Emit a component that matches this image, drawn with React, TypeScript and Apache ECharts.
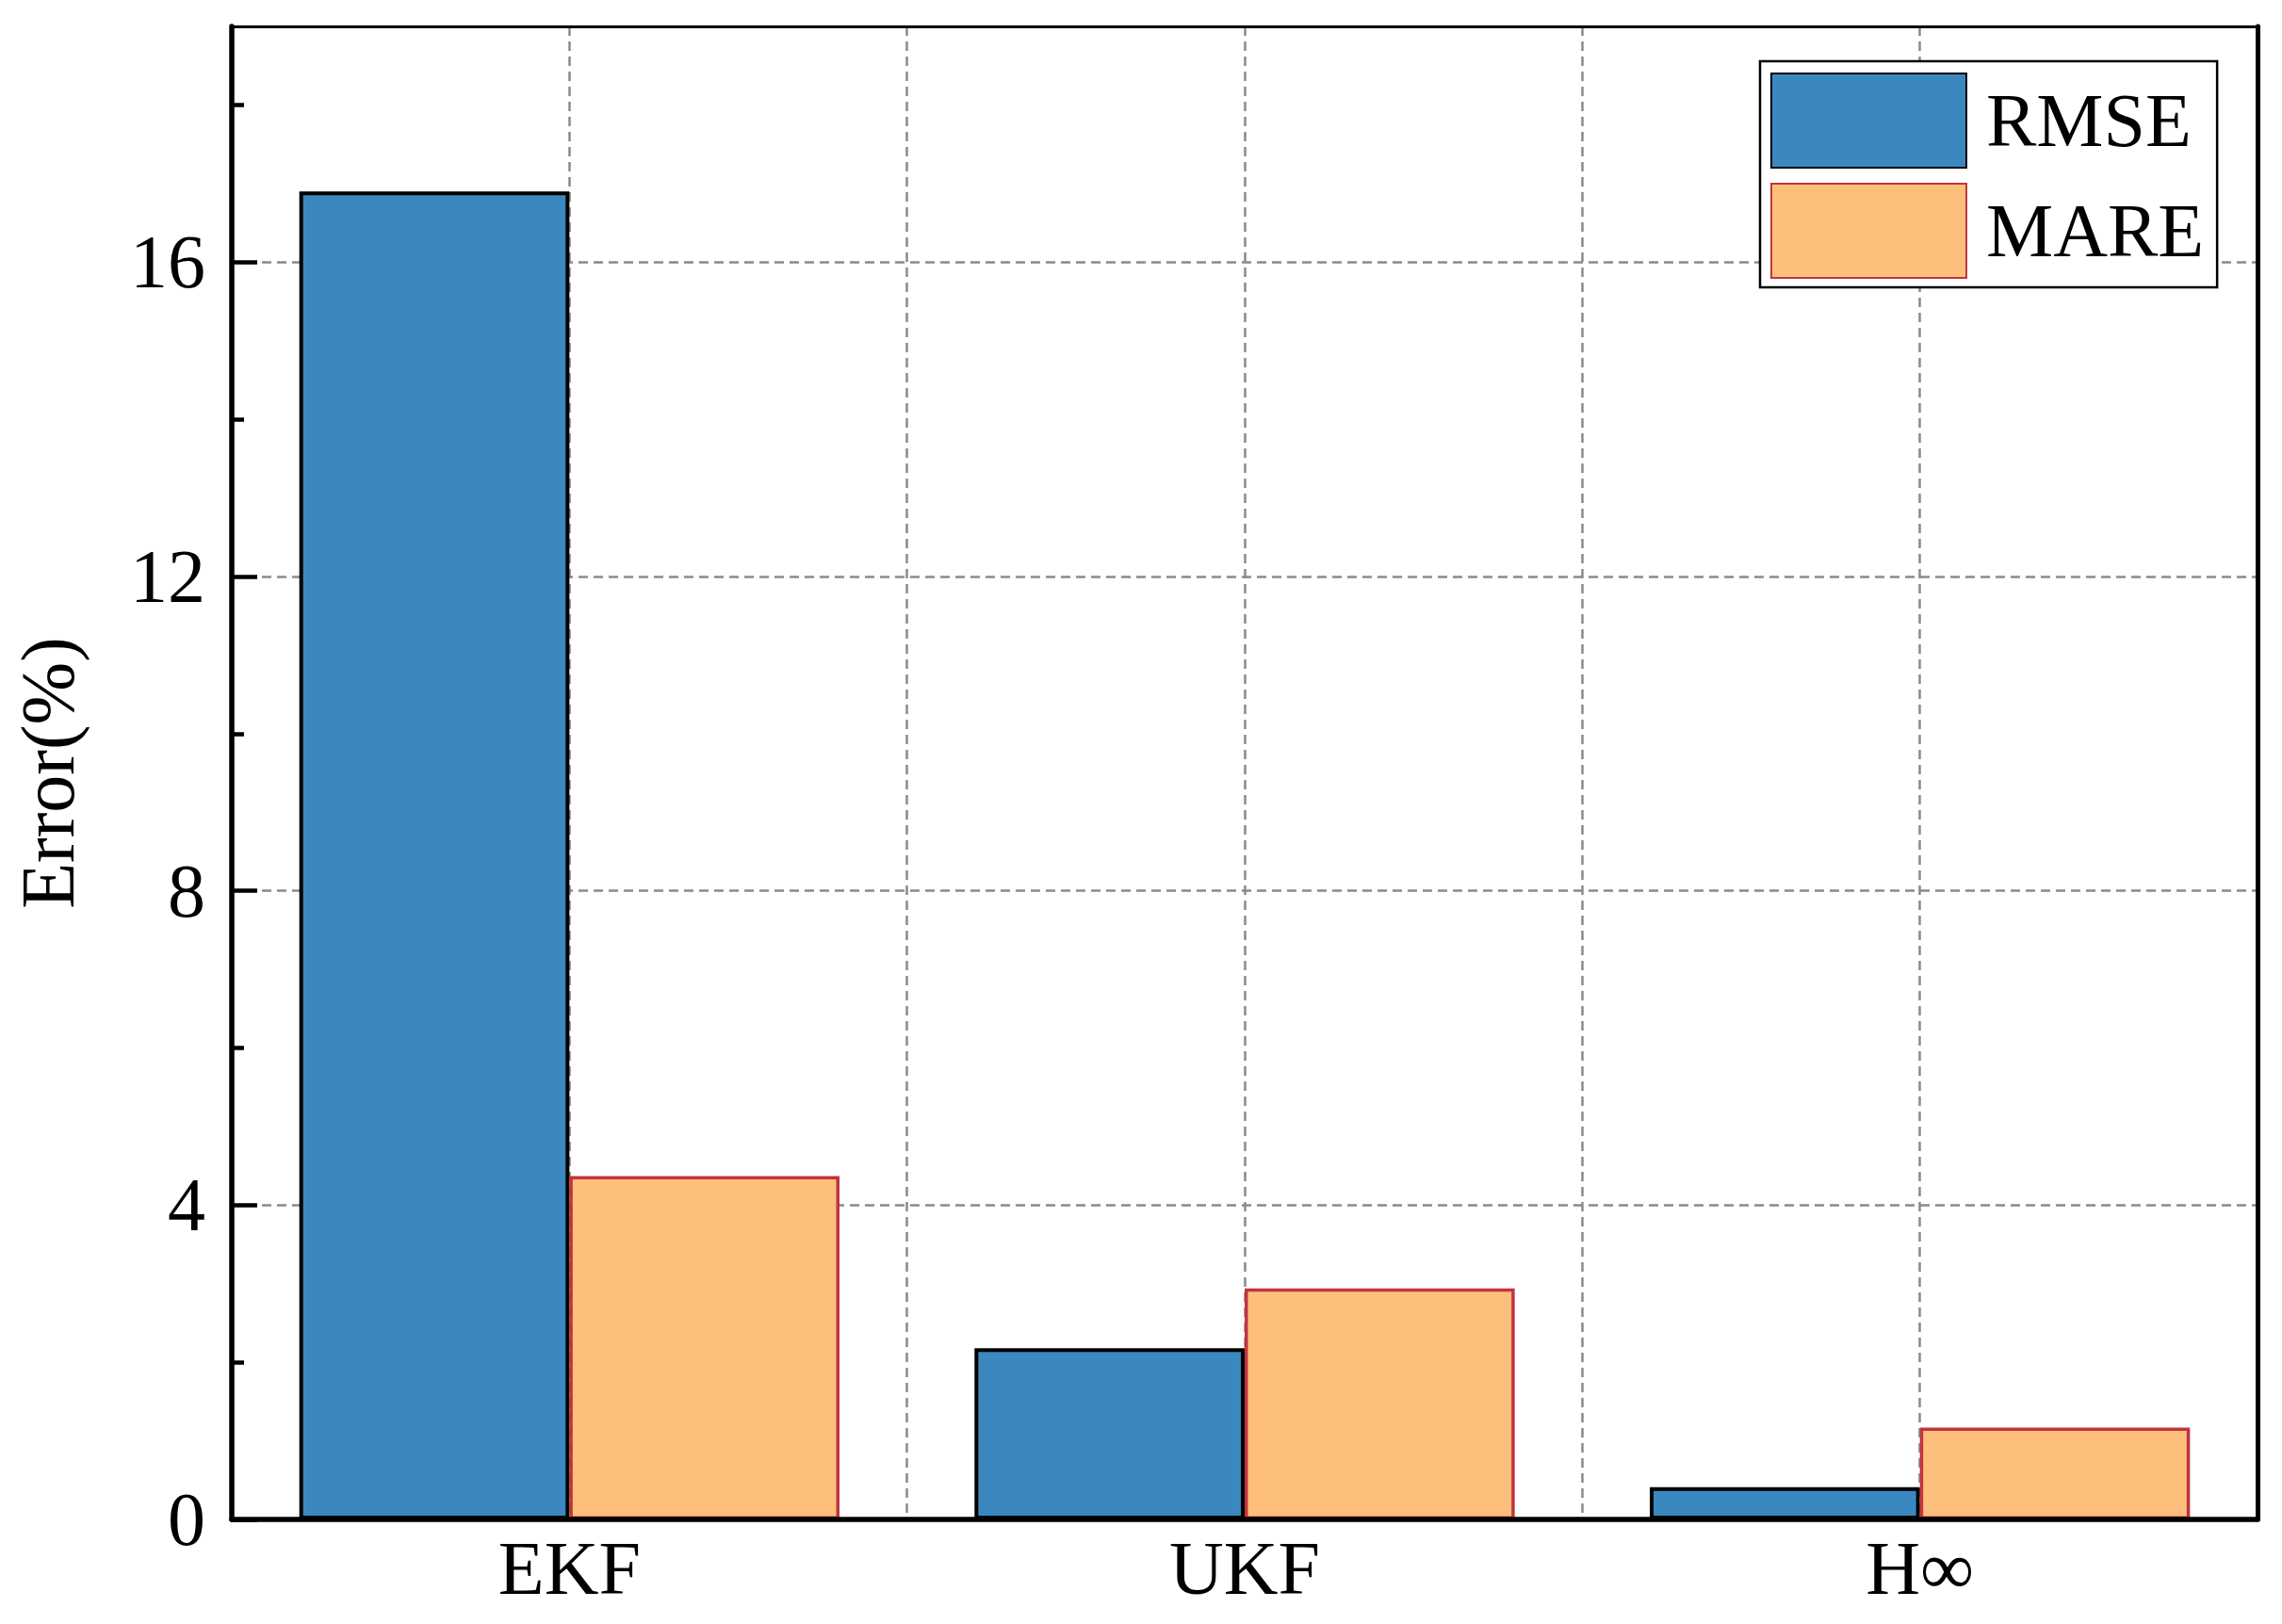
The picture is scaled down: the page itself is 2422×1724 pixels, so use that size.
import React, { useEffect, useRef } from "react";
import * as echarts from "echarts";

const categories = ["EKF", "UKF", "H∞"];
const rmseValues = [16.9, 2.18, 0.41];
const mareValues = [4.37, 2.94, 1.17];
const seriesNames = ["RMSE", "MARE"];
const yMajorTicks = [0, 4, 8, 12, 16];
const yMinorTicks = [2, 6, 10, 14, 18];
const yAxisName = "Error(%)";

const FONT = '"Liberation Serif", "Times New Roman", serif';
const GRID_LINE = { color: "#8a8a8a", width: 2.5, type: [10, 6] as number[] };

export default function App() {
  const ref = useRef<HTMLDivElement>(null);

  useEffect(() => {
    if (!ref.current) return;
    const chart = echarts.init(ref.current, null, { renderer: "svg" });
    const option: any = {
      animation: false,
      backgroundColor: "#ffffff",
      textStyle: { fontFamily: FONT },
      grid: { left: 246, right: 26, top: 28, bottom: 111, containLabel: false },
      legend: {
        data: seriesNames,
        orient: "vertical",
        left: 1868,
        top: 65,
        padding: [12, 14, 9, 11],
        itemWidth: 207,
        itemHeight: 100,
        itemGap: 15,
        icon: "rect",
        borderColor: "#000",
        borderWidth: 2.5,
        borderRadius: 0,
        backgroundColor: "#fff",
        textStyle: { fontSize: 80, color: "#000", fontFamily: FONT, padding: [0, 0, 0, 16] },
      },
      xAxis: [
        {
          type: "category",
          data: categories,
          position: "bottom",
          z: 3,
          axisLine: { show: true, onZero: false, lineStyle: { color: "#000", width: 5.5 } },
          axisTick: { show: false },
          axisLabel: { fontSize: 80, color: "#000", margin: 12, fontFamily: FONT },
          splitLine: { show: false },
        },
        {
          type: "value",
          position: "top",
          min: 0.5,
          max: 3.5,
          interval: 0.5,
          z: 3,
          axisLine: { show: true, onZero: false, lineStyle: { color: "#000", width: 3 } },
          axisTick: { show: false },
          axisLabel: { show: false },
          splitLine: { show: false },
        },
        {
          type: "value",
          position: "bottom",
          min: 0.5,
          max: 3.5,
          interval: 0.5,
          z: 0,
          axisLine: { show: false, onZero: false },
          axisTick: { show: false },
          axisLabel: { show: false },
          splitLine: { show: true, lineStyle: GRID_LINE },
        },
      ],
      yAxis: [
        {
          type: "value",
          position: "left",
          min: 0,
          max: 19,
          interval: 4,
          z: 3,
          name: yAxisName,
          nameLocation: "middle",
          nameGap: 155,
          nameRotate: 90,
          nameTextStyle: { fontSize: 80, color: "#000", fontFamily: FONT },
          axisLine: { show: true, onZero: false, lineStyle: { color: "#000", width: 5.5 } },
          axisTick: {
            show: true,
            inside: true,
            length: 27,
            lineStyle: { color: "#000", width: 4.5 },
            customValues: yMajorTicks,
          },
          axisLabel: {
            fontSize: 80,
            color: "#000",
            margin: 28,
            fontFamily: FONT,
            customValues: yMajorTicks,
          },
          splitLine: { show: false },
        },
        {
          type: "value",
          position: "left",
          min: 0,
          max: 19,
          interval: 2,
          z: 3,
          axisLine: { show: false, onZero: false },
          axisTick: {
            show: true,
            inside: true,
            length: 13,
            lineStyle: { color: "#000", width: 4.5 },
            customValues: yMinorTicks,
          },
          axisLabel: { show: false },
          splitLine: { show: false },
        },
        {
          type: "value",
          position: "right",
          min: 0,
          max: 19,
          interval: 4,
          z: 3,
          axisLine: { show: true, onZero: false, lineStyle: { color: "#000", width: 5 } },
          axisTick: { show: false },
          axisLabel: { show: false },
          splitLine: { show: false },
        },
        {
          type: "value",
          position: "left",
          min: 0,
          max: 19,
          interval: 4,
          z: 0,
          axisLine: { show: false, onZero: false },
          axisTick: { show: false },
          axisLabel: { show: false },
          splitLine: { show: true, lineStyle: GRID_LINE },
        },
      ],
      series: [
        {
          type: "bar",
          name: seriesNames[0],
          data: rmseValues,
          xAxisIndex: 0,
          yAxisIndex: 0,
          barWidth: "40%",
          barGap: "0%",
          z: 2,
          itemStyle: { color: "#3a88bf", borderColor: "#000", borderWidth: 4 },
        },
        {
          type: "bar",
          name: seriesNames[1],
          data: mareValues,
          xAxisIndex: 0,
          yAxisIndex: 0,
          barWidth: "40%",
          barGap: "0%",
          z: 2,
          itemStyle: { color: "#fdbf7b", borderColor: "#c1343e", borderWidth: 3.5 },
        },
      ],
    };
    chart.setOption(option);
    return () => chart.dispose();
  }, []);

  return (
    <div
      ref={ref}
      style={{ position: "fixed", left: 0, top: 0, width: 2422, height: 1724, background: "#fff" }}
    />
  );
}
